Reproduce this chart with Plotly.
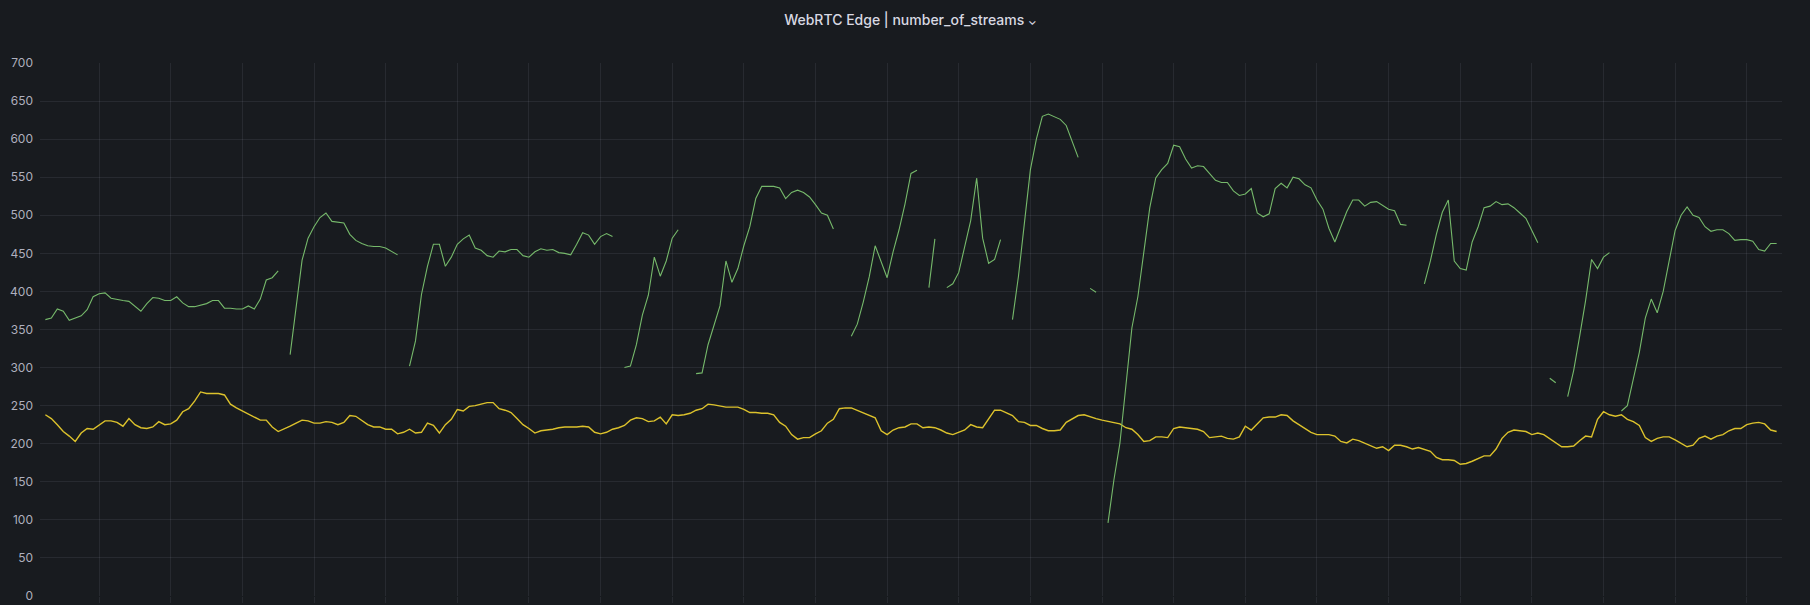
import pandas as pd
import plotly.graph_objects as go

# 5-minute samples, first one at 23:15 the day before
start = "2024-03-11 23:15"

yellow = [
    238, 233, 225, 216, 210, 203, 214, 220, 219, 224,
    230, 230, 228, 223, 233, 225, 221, 220, 222, 229,
    225, 226, 231, 242, 246, 256, 268, 266, 266, 266,
    264, 252, 247, 243, 240, 235, 231, 231, 222, 216,
    219, 223, 227, 231, 230, 227, 227, 229, 228, 225,
    228, 237, 236, 231, 225, 222, 222, 219, 219, 213,
    215, 219, 214, 215, 227, 224, 214, 225, 232, 245,
    243, 249, 250, 252, 254, 254, 246, 244, 241, 233,
    225, 220, 214, 217, 218, 219, 221, 222, 222, 222,
    223, 222, 215, 213, 215, 219, 221, 224, 231, 234,
    233, 229, 230, 235, 226, 238, 237, 238, 240, 244,
    246, 252, 251, 249, 248, 248, 248, 245, 241, 241,
    240, 240, 238, 228, 223, 212, 206, 208, 208, 213,
    217, 227, 232, 246, 247, 247, 244, 241, 238, 234,
    217, 212, 218, 221, 222, 226, 226, 221, 222, 221,
    218, 214, 212, 215, 218, 225, 222, 221, 233, 244,
    244, 240, 237, 229, 228, 224, 224, 220, 217, 217,
    218, 228, 233, 237, 238, 235, 233, 231, 229, 228,
    226, 221, 219, 212, 203, 204, 209, 209, 208, 220,
    222, 221, 220, 219, 216, 208, 209, 210, 207, 206,
    209, 223, 218, 226, 234, 235, 235, 238, 237, 230,
    225, 220, 215, 212, 212, 212, 210, 203, 201, 206,
    204, 201, 197, 194, 196, 191, 198, 198, 196, 193,
    195, 193, 190, 182, 179, 179, 178, 173, 174, 177,
    180, 184, 184, 193, 207, 215, 218, 217, 216, 212,
    214, 212, 207, 202, 196, 196, 197, 204, 210, 209,
    232, 242, 238, 236, 238, 232, 229, 224, 208, 203,
    207, 209, 209, 205, 200, 196, 198, 207, 210, 206,
    210, 212, 217, 220, 220, 225, 227, 228, 226, 218, 216,
]

green = [
    363, 365, 377, 374, 362, 365, 368, 376, 393, 397,
    398, 391, 389, 388, 387, 381, 374, 384, 392, 391,
    388, 388, 393, 385, 380, 380, 382, 384, 388, 388,
    378, 378, 377, 377, 381, 377, 390, 415, 418, 427,
    None, 317, 383, 441, 470, 485, 497, 503, 492, 491,
    490, 475, 467, 463, 460, 459, 459, 457, 452, 448,
    None, 302, 335, 396, 433, 462, 462, 433, 445, 462,
    469, 474, 457, 454, 447, 445, 453, 452, 455, 455,
    447, 445, 452, 456, 454, 455, 451, 450, 448, 462,
    477, 474, 462, 472, 476, 472, None, 300, 302, 330,
    369, 395, 445, 420, 440, 470, 481, None, None, 292,
    293, 330, 355, 381, 440, 412, 430, 460, 485, 522,
    538, 538, 538, 536, 522, 530, 533, 530, 524, 514,
    503, 500, 482, None, None, 341, 357, 386, 419, 460,
    440, 418, 452, 481, 515, 555, 559, None, 405, 469,
    None, 405, 410, 425, 460, 493, 549, 470, 437, 442,
    468, None, 363, 420, 490, 560, 600, 630, 633, 629,
    626, 618, 596, 576, None, 404, 399, None, 96, 153,
    201, 280, 352, 393, 452, 510, 549, 560, 568, 592,
    590, 574, 562, 565, 564, 555, 546, 543, 543, 532,
    526, 528, 535, 503, 498, 502, 535, 542, 536, 550,
    548, 540, 536, 520, 508, 483, 465, 485, 505, 520,
    520, 512, 517, 518, 513, 508, 506, 488, 487, None,
    None, 410, 440, 475, 504, 520, 440, 430, 428, 465,
    485, 510, 512, 518, 514, 515, 510, 503, 496, 480,
    464, None, 286, 280, None, 262, 296, 341, 388, 442,
    430, 445, 451, None, 243, 250, 285, 320, 365, 390,
    372, 400, 440, 480, 500, 511, 500, 497, 485, 479,
    481, 481, 476, 467, 468, 468, 466, 455, 453, 463, 463,
]

assert len(green) == len(yellow)
times = pd.date_range(start, periods=len(yellow), freq="5min")

BG = "#181b1f"
GRID = "rgba(204,204,220,0.09)"
TEXT = "rgba(204,204,220,0.85)"

fig = go.Figure()
fig.add_trace(go.Scatter(
    x=times, y=yellow, mode="lines", name="edge-b",
    line=dict(color="#DCC22C", width=1.4),
))
fig.add_trace(go.Scatter(
    x=times, y=green, mode="lines", name="edge-a",
    line=dict(color="#76B96B", width=1.1), connectgaps=False,
))

fig.update_layout(
    width=1810, height=605,
    paper_bgcolor=BG, plot_bgcolor=BG,
    margin=dict(l=40, r=28, t=63, b=9),
    showlegend=False,
    font=dict(family="Inter, Roboto, sans-serif", color=TEXT, size=12),
    title=dict(
        text="WebRTC Edge | number_of_streams <span style='font-size:11px'>⌄</span>",
        x=0.503, xref="container", xanchor="center",
        y=1 - 20 / 605, yref="container", yanchor="middle",
        font=dict(family="Inter, Roboto, sans-serif", size=14,
                  color="#d8d9e2", weight=500),
    ),
    xaxis=dict(
        range=["2024-03-11 23:10:30", "2024-03-12 23:29:30"],
        dtick=3600000, tick0="2024-03-12 00:00",
        showgrid=True, gridcolor=GRID, gridwidth=1,
        showticklabels=False, zeroline=False, showline=False,
        ticks="outside", ticklen=6, tickcolor=GRID,
        automargin=False,
    ),
    yaxis=dict(
        range=[0, 700], dtick=50,
        showgrid=True, gridcolor=GRID, gridwidth=1,
        zeroline=False, showline=False,
        ticks="", ticklabelstandoff=6,
        tickfont=dict(size=12, color=TEXT),
        automargin=False,
    ),
)

# drop the default page margin so the panel sits at the window's corner
fig.write_html(
    "out.html",
    config={"displayModeBar": False},
    post_script="document.body.style.margin='0';"
                "document.body.style.background='#181b1f';",
)
